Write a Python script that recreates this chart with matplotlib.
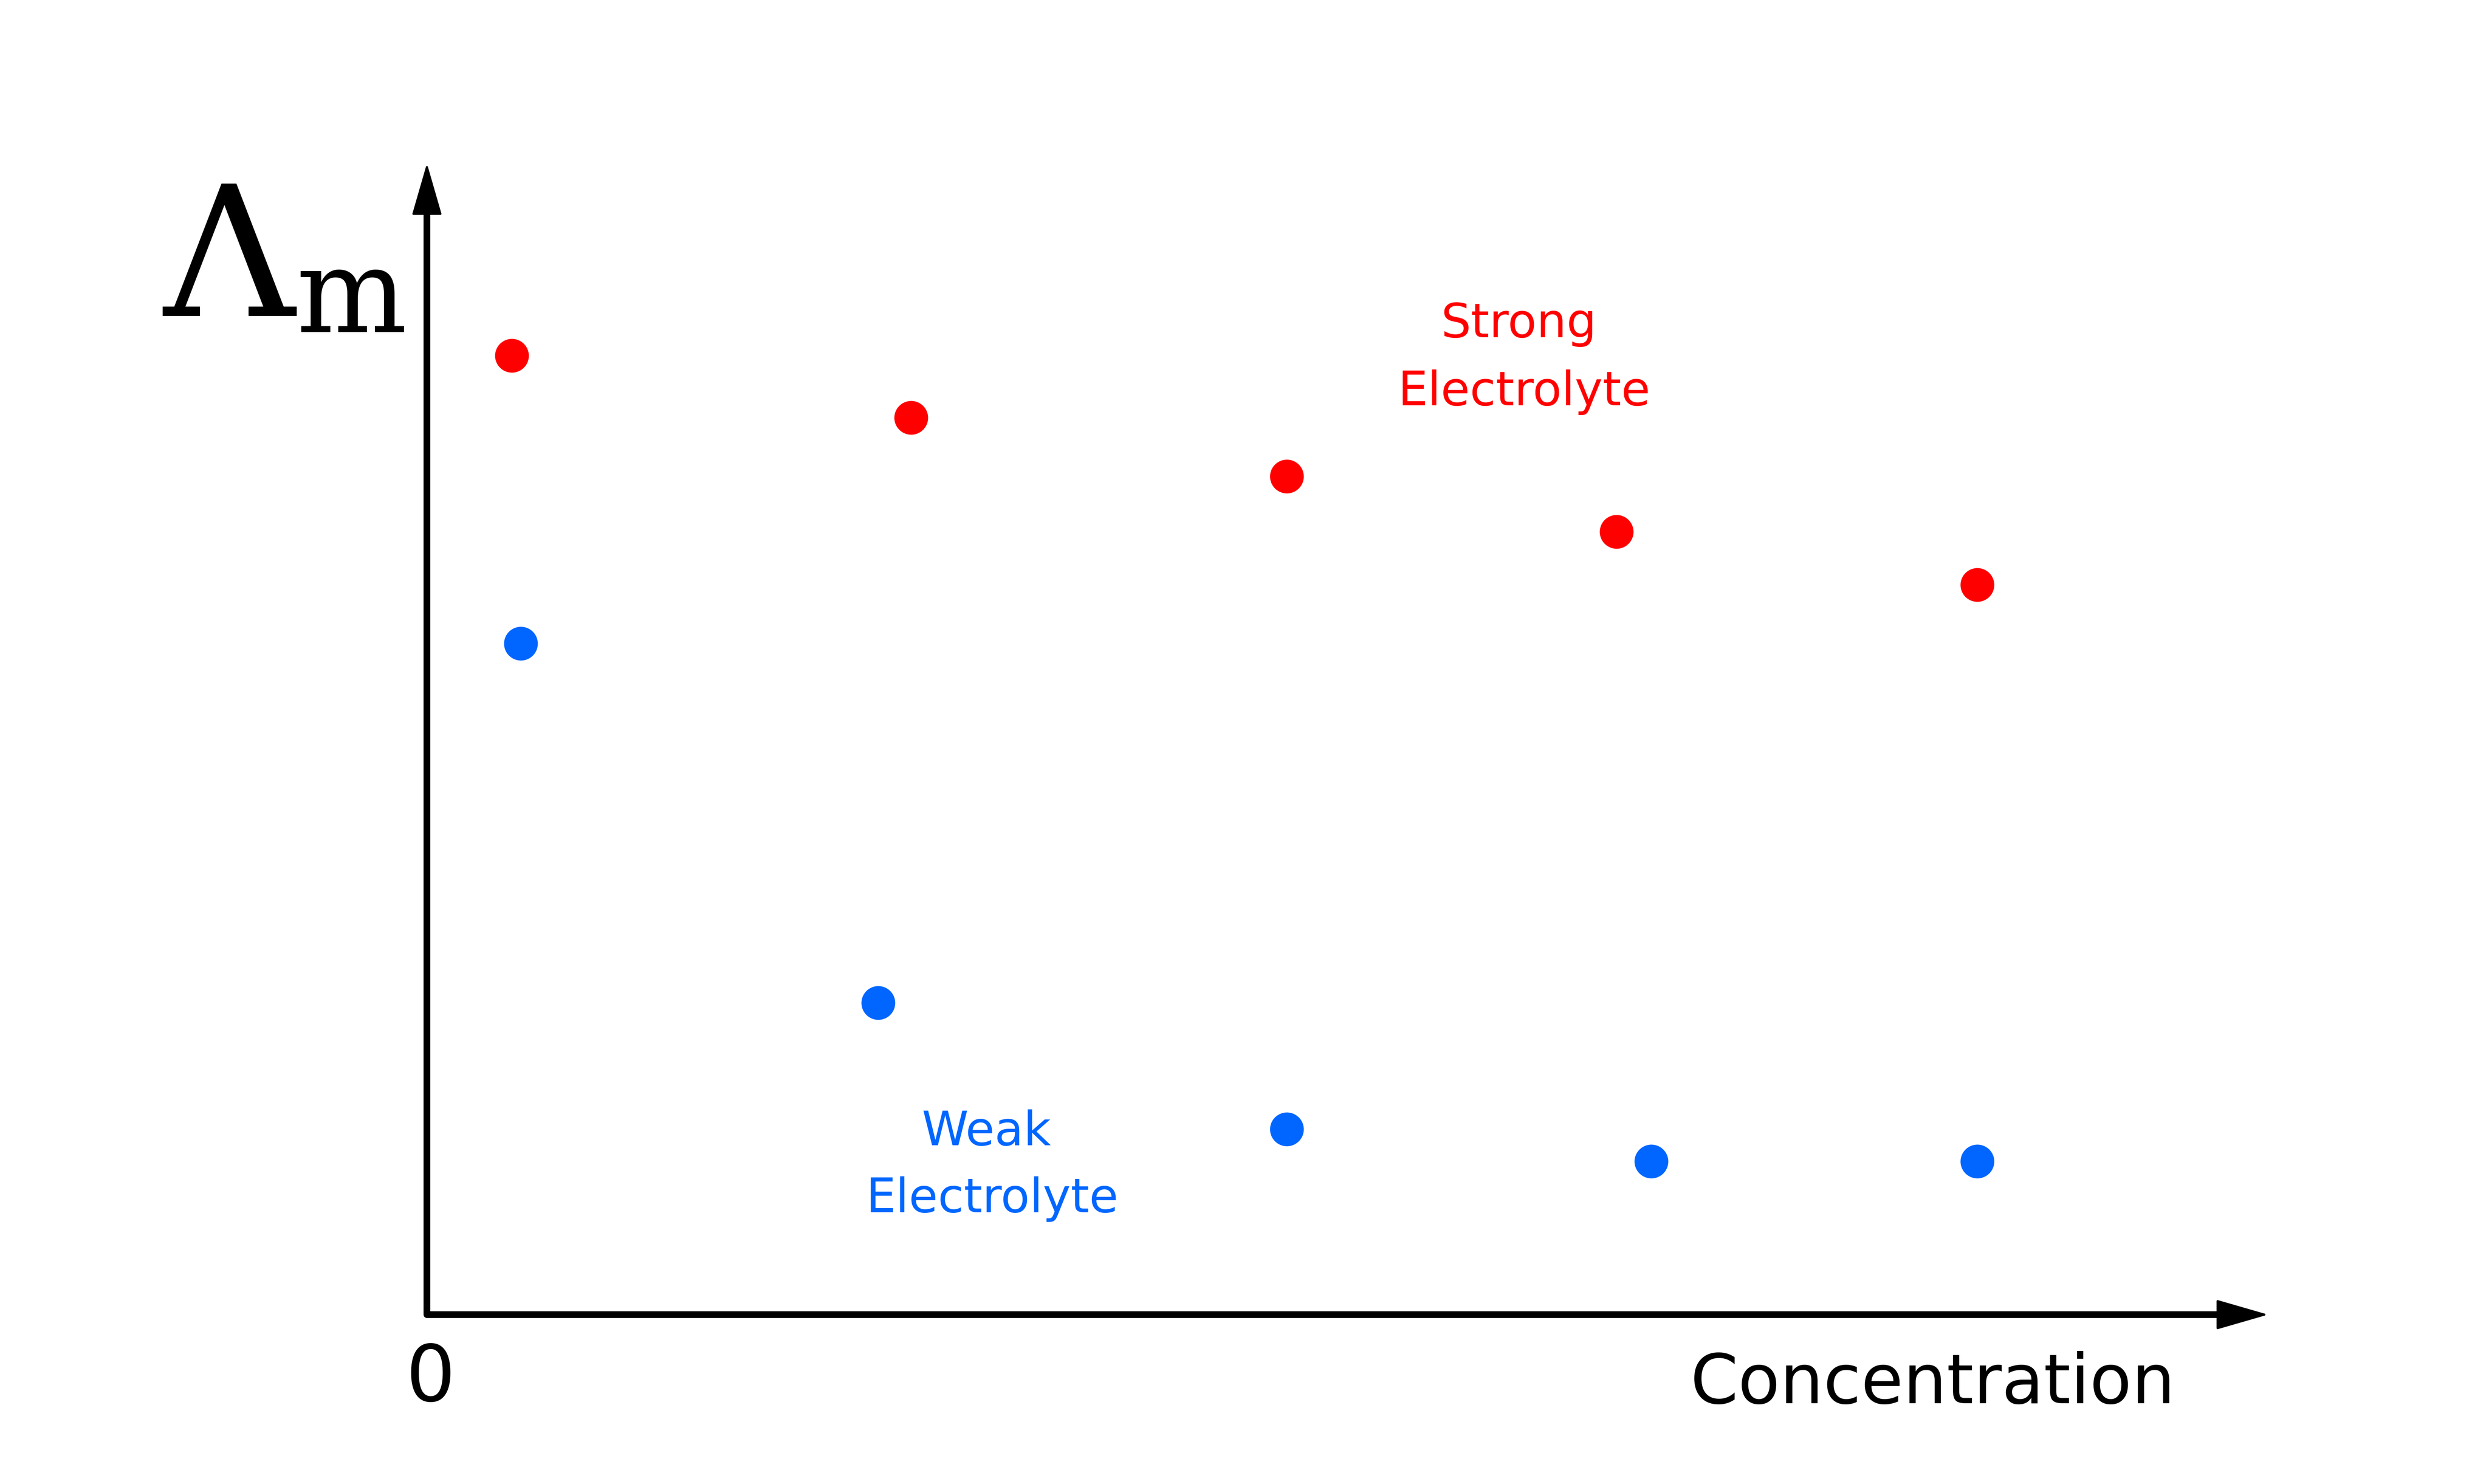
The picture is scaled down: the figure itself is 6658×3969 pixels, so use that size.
import matplotlib
matplotlib.use("Agg")
import matplotlib.pyplot as plt

# concentration (arbitrary units) and molar conductivity readings
strong_x = [0.46, 2.63, 4.67, 6.46, 8.42]
strong_y = [8.33, 7.79, 7.28, 6.80, 6.34]
weak_x = [0.51, 2.45, 4.67, 6.65, 8.42]
weak_y = [5.83, 2.71, 1.61, 1.33, 1.33]

red = "#FF0000"
blue = "#0066FF"

W, H = 6658, 3969
fig = plt.figure(figsize=(W / 100, H / 100), dpi=100)
fig.patch.set_facecolor("white")

# axes box: origin of the drawn axes to the arrow tips (pixels)
x0, y0 = 1142, 3516
x1, y1 = 6067, 437
ax = fig.add_axes([x0 / W, (H - y0) / H, (x1 - x0) / W, (y0 - y1) / H])
ax.set_xlim(0, 10)
ax.set_ylim(0, 10)
ax.axis("off")

##### axes with arrow heads #####
lw = 13
ax.plot([0, 0, 9.8], [9.7, 0, 0], color="black", lw=lw,
        solid_joinstyle="round", solid_capstyle="butt", clip_on=False)
head = dict(arrowstyle="-|>,head_length=0.9,head_width=0.26", lw=4,
            color="black", shrinkA=0, shrinkB=0, mutation_scale=100,
            joinstyle="round")
ax.annotate("", xy=(10, 0), xytext=(9.6, 0), arrowprops=head, annotation_clip=False)
ax.annotate("", xy=(0, 10), xytext=(0, 9.4), arrowprops=head, annotation_clip=False)

##### data points #####
ax.plot(strong_x, strong_y, "o", color=red, ms=65, mew=0, clip_on=False)
ax.plot(weak_x, weak_y, "o", color=blue, ms=65, mew=0, clip_on=False)

##### labels #####
txt = dict(family="DejaVu Sans", fontsize=91, ha="center", va="baseline")
ax.text(5.93, 8.49, "Strong", color=red, **txt)
ax.text(5.96, 7.90, "Electrolyte", color=red, **txt)
ax.text(3.04, 1.47, "Weak", color=blue, **txt)
ax.text(3.07, 0.89, "Electrolyte", color=blue, **txt)

ax.text(0.02, -0.75, "0", family="DejaVu Sans", fontsize=150,
        ha="center", va="baseline", color="black")
ax.text(8.18, -0.77, "Concentration", family="DejaVu Sans", fontsize=132,
        ha="center", va="baseline", color="black")

ax.text(-1.43, 8.675, "\u039b", family="DejaVu Serif", fontsize=350,
        ha="left", va="baseline", color="black")
ax.text(-0.71, 8.535, "m", family="DejaVu Serif", fontsize=225,
        ha="left", va="baseline", color="black")

plt.savefig("out.png", dpi=100, facecolor="white")
